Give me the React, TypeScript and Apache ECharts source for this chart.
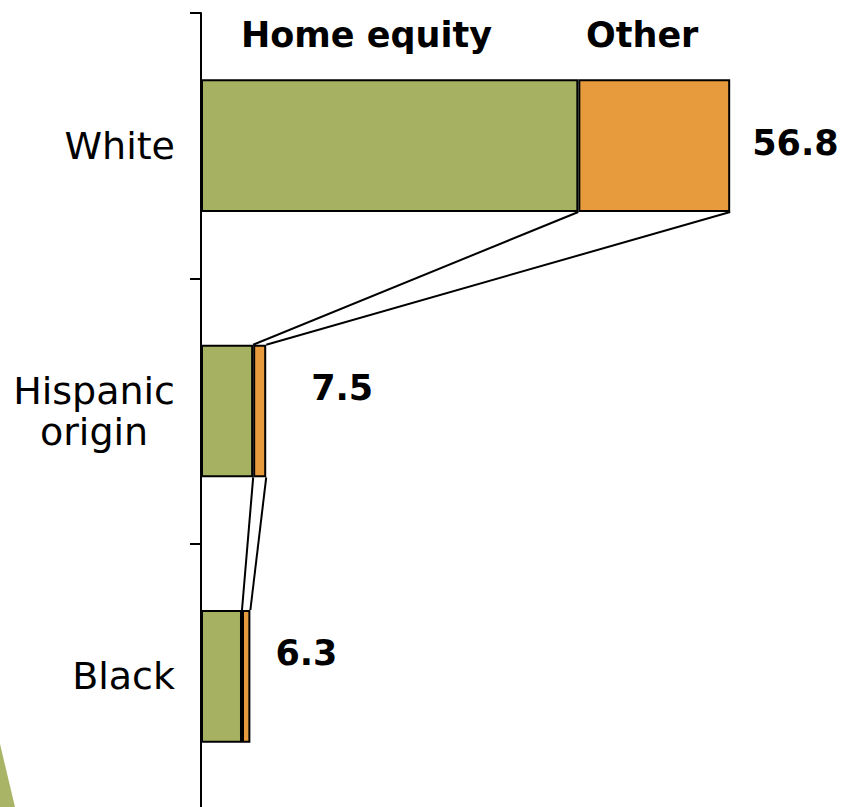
import React, { useEffect, useRef } from "react";
import * as echarts from "echarts";

const categories = ["White", "Hispanic origin", "Black"];
const seriesNames = ["Home equity", "Other"];
const homeEquity = [40.5, 5.6, 4.4];
const other = [16.3, 1.4, 0.9];
const totalLabels = ["56.8", "7.5", "6.3"];

const labelOffsets = [
  [22, -3],
  [45, -23],
  [25, -23],
];

const FONT = "'DejaVu Sans', Verdana, sans-serif";
const GREEN = "#A6B262";
const ORANGE = "#E89B3C";

export default function App() {
  const ref = useRef<HTMLDivElement>(null);

  useEffect(() => {
    if (!ref.current) return;
    const chart = echarts.init(ref.current, undefined, { renderer: "svg" });

    const connectors: number[][] = [];
    for (let i = 0; i < categories.length - 1; i++) {
      connectors.push([homeEquity[i], i, homeEquity[i + 1], i + 1]);
      connectors.push([
        homeEquity[i] + other[i],
        i,
        homeEquity[i + 1] + other[i + 1],
        i + 1,
      ]);
    }

    chart.setOption({
      animation: false,
      backgroundColor: "#fff",
      grid: {
        left: 201,
        top: 13,
        height: 796,
        width: 559,
        containLabel: false,
        outerBoundsMode: "none",
      },
      legend: {
        data: seriesNames,
        left: 231,
        top: 10,
        icon: "none",
        itemWidth: 0,
        itemHeight: 14,
        itemGap: 89,
        selectedMode: false,
        textStyle: {
          fontSize: 35,
          fontWeight: "bold",
          fontFamily: FONT,
          color: "#000",
          lineHeight: 40,
        },
      },
      xAxis: {
        type: "value",
        min: 0,
        max: 60,
        show: false,
      },
      yAxis: {
        type: "category",
        data: categories,
        inverse: true,
        axisLine: { show: true, lineStyle: { color: "#000", width: 2 } },
        axisTick: { show: true, length: 11, lineStyle: { color: "#000", width: 2 } },
        axisLabel: {
          interval: 0,
          margin: 26,
          fontSize: 38,
          fontFamily: FONT,
          color: "#000",
          formatter: (v: string) =>
            v.includes(" ")
              ? v
                  .split(" ")
                  .map((w) => `{c|${w}}`)
                  .join("\n")
              : v,
          rich: {
            c: {
              fontSize: 38,
              fontFamily: FONT,
              color: "#000",
              lineHeight: 41,
              align: "center",
            },
          },
        },
        splitLine: { show: false },
      },
      graphic: [
        {
          type: "polygon",
          shape: {
            points: [
              [0, 744],
              [15, 807],
              [0, 807],
            ],
          },
          style: { fill: "#A9B466" },
          silent: true,
        },
      ],
      series: [
        {
          name: seriesNames[0],
          type: "bar",
          stack: "total",
          barWidth: "50%",
          data: homeEquity,
          itemStyle: { color: GREEN, borderColor: "#000", borderWidth: 2 },
        },
        {
          name: seriesNames[1],
          type: "bar",
          stack: "total",
          barWidth: "50%",
          data: other.map((v, i) => ({
            value: v,
            label: { offset: labelOffsets[i] },
          })),
          itemStyle: { color: ORANGE, borderColor: "#000", borderWidth: 2 },
          label: {
            show: true,
            position: "right",
            distance: 0,
            fontSize: 35,
            fontWeight: "bold",
            fontFamily: FONT,
            color: "#000",
            formatter: (p: any) => totalLabels[p.dataIndex],
          },
        },
        {
          type: "custom",
          silent: true,
          encode: { x: [0, 2], y: [1, 3] },
          data: connectors,
          renderItem: (params: any, api: any) => {
            const p1 = api.coord([api.value(0), api.value(1)]);
            const p2 = api.coord([api.value(2), api.value(3)]);
            const half = api.size([0, 1])[1] * 0.25;
            return {
              type: "line",
              shape: { x1: p1[0], y1: p1[1] + half, x2: p2[0], y2: p2[1] - half },
              style: { stroke: "#000", lineWidth: 2 },
            };
          },
        },
      ],
    });

    return () => chart.dispose();
  }, []);

  return (
    <div
      ref={ref}
      style={{ position: "absolute", left: 0, top: 0, width: 842, height: 807 }}
    />
  );
}
